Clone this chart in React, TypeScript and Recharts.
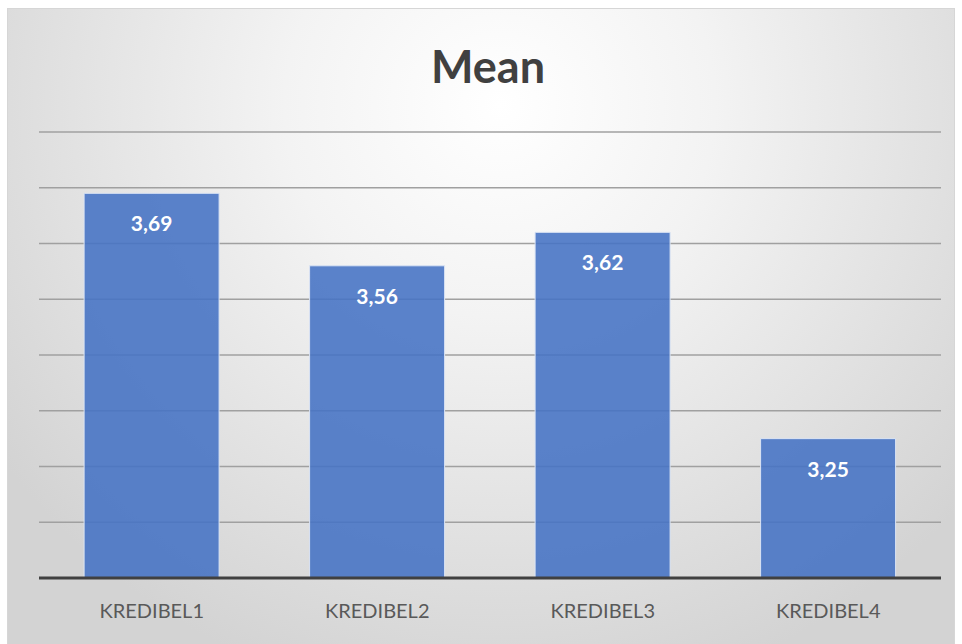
import { BarChart, Bar, XAxis, YAxis, CartesianGrid, LabelList } from 'recharts';

const categories = ['KREDIBEL1', 'KREDIBEL2', 'KREDIBEL3', 'KREDIBEL4'];
const meanValues = [3.69, 3.56, 3.62, 3.25];
const yTicks = [3.0, 3.1, 3.2, 3.3, 3.4, 3.5, 3.6, 3.7, 3.8];

const data = categories.map((name, i) => ({ name, mean: meanValues[i] }));

const fmt = (v: any) => Number(v).toFixed(2).replace('.', ',');

export default function App() {
  return (
    <div style={{ position: 'absolute', left: 0, top: 0, width: 962, height: 644, background: '#ffffff', overflow: 'hidden' }}>
      <div
        style={{
          position: 'absolute',
          left: 7,
          top: 8,
          width: 948,
          height: 640,
          boxSizing: 'border-box',
          border: '1px solid #d6d6d6',
          background: 'radial-gradient(ellipse 65% 95% at 52% 15%, #ffffff 0%, #f3f3f3 35%, #d3d3d3 100%)',
        }}
      >
        <div
          style={{
            position: 'absolute',
            left: 7,
            width: '100%',
            top: 30,
            textAlign: 'center',
            fontFamily: 'Lato, sans-serif',
            fontWeight: 700,
            fontSize: 45,
            color: '#404040',
          }}
        >
          Mean
        </div>
        <BarChart
          width={948}
          height={636}
          data={data}
          margin={{ top: 123, right: 15, bottom: 27, left: 31 }}
          barCategoryGap="20%"
        >
          <CartesianGrid vertical={false} stroke="#a0a0a0" strokeWidth={1.5} />
          <YAxis hide domain={[3.0, 3.8]} ticks={yTicks} />
          <XAxis
            dataKey="name"
            height={40}
            axisLine={{ stroke: '#404040', strokeWidth: 3 }}
            tickLine={false}
            tickMargin={20}
            tick={{ fill: '#595959', fontSize: 20, fontFamily: 'Lato, sans-serif' }}
          />
          <Bar dataKey="mean" fill="#4472C4" fillOpacity={0.88} stroke="#dbe4f4" strokeWidth={1} isAnimationActive={false}>
            <LabelList
              dataKey="mean"
              position="insideTop"
              offset={23}
              formatter={fmt}
              fill="#ffffff"
              fontSize={21}
              fontWeight={700}
              fontFamily="Lato, sans-serif"
            />
          </Bar>
        </BarChart>
      </div>
    </div>
  );
}
